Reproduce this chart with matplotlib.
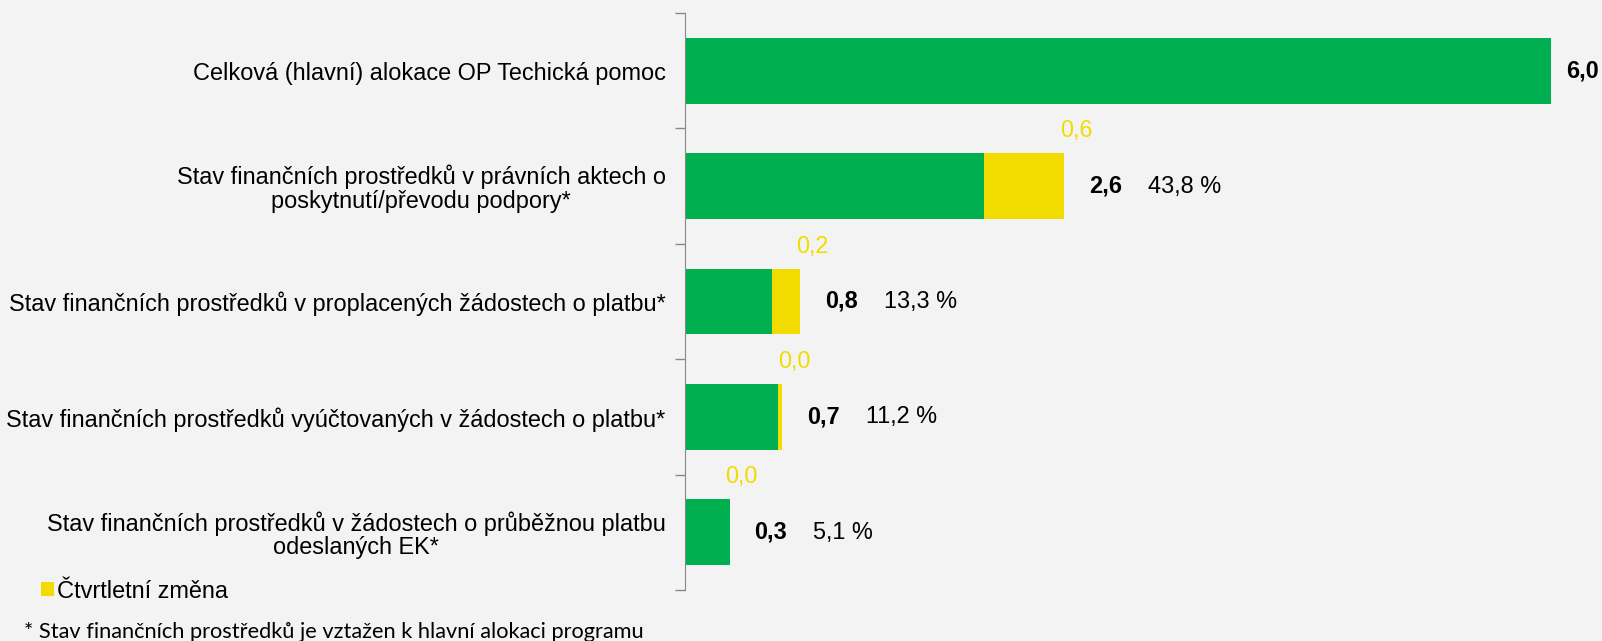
import matplotlib.pyplot as plt
import numpy as np

kategorie = ["Celková (hlavní) alokace OP Techická pomoc",
             "Stav finančních prostředků v právních aktech o\nposkytnutí/převodu podpory*",
             "Stav finančních prostředků v proplacených žádostech o platbu*",
             "Stav finančních prostředků vyúčtovaných v žádostech o platbu*",
             "Stav finančních prostředků v žádostech o průběžnou platbu\nodeslaných EK*"]
stav = [6.0, 2.07, 0.60, 0.645, 0.31]
zmena = [0.0, 0.56, 0.20, 0.03, 0.0]
celkem = ["6,0", "2,6", "0,8", "0,7", "0,3"]
zmena_txt = [None, "0,6", "0,2", "0,0", "0,0"]
procenta = [None, "43,8 %", "13,3 %", "11,2 %", "5,1 %"]

zelena = '#00B050'
zluta = '#F2DC00'
pozadi = '#F3F3F3'
fs = 16.9

plt.rcParams['font.family'] = ['Liberation Sans', 'DejaVu Sans']

fig = plt.figure(figsize=(16.02, 6.41), dpi=100, facecolor=pozadi)
ax = fig.add_axes([0.4276, 0.0796, 0.968 - 0.4276, 0.9001])
ax.set_facecolor(pozadi)

y = np.arange(len(kategorie))
ax.barh(y, stav, height=0.57, color=zelena)
zl = ax.barh(y, zmena, left=stav, height=0.57, color=zluta)

ax.set_xlim(0, 6.0)
ax.set_ylim(len(kategorie) - 0.5, -0.5)

for i in range(len(kategorie)):
    konec = stav[i] + zmena[i]
    # popisek celkove hodnoty, u nejdelsiho pruhu blize k okraji
    xt = min(konec + 0.17, 6.11)
    ax.text(xt, i, celkem[i], fontsize=fs, fontweight='bold',
            va='center', ha='left', clip_on=False)
    if procenta[i]:
        ax.text(xt + 0.41, i, procenta[i], fontsize=fs,
                va='center', ha='left', clip_on=False)
    if zmena_txt[i]:
        ax.text(konec + 0.08, i - 0.48, zmena_txt[i], fontsize=fs,
                color=zluta, va='center', ha='center', clip_on=False)

ax.set_yticks(y)
ax.set_yticklabels(kategorie, fontsize=fs, ha='right', multialignment='center',
                   linespacing=1.05)
ax.tick_params(axis='y', which='major', length=0, pad=14)
ax.set_yticks(np.arange(len(kategorie) + 1) - 0.5, minor=True)
ax.tick_params(axis='y', which='minor', length=7, color='#888888', width=1)
ax.set_xticks([])

for s in ['top', 'right', 'bottom']:
    ax.spines[s].set_visible(False)
ax.spines['left'].set_color('#888888')

fig.legend(handles=[zl], labels=['Čtvrtletní změna'], loc='center left',
           bbox_to_anchor=(41 / 1602, 1 - 591 / 641), frameon=False,
           handlelength=0.55, handleheight=0.55, handletextpad=0.12,
           prop={'size': fs}, borderpad=0, borderaxespad=0)

fig.text(24 / 1602, 1 - 632 / 641, "* Stav finančních prostředků je vztažen k hlavní alokaci programu",
         fontsize=15.7, family=['Lato', 'DejaVu Sans'], va='center', ha='left')

plt.savefig('out.png', dpi=100, facecolor=pozadi)
